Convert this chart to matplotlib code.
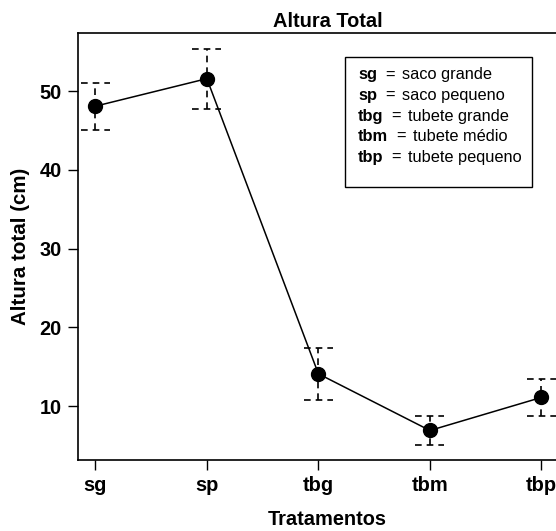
import matplotlib.pyplot as plt

plt.rcParams['font.family'] = ['Liberation Sans', 'DejaVu Sans']

# dados
tratamentos = ['sg', 'sp', 'tbg', 'tbm', 'tbp']
altura = [48.1, 51.6, 14.1, 6.9, 11.1]
erro = [3.0, 3.8, 3.3, 1.8, 2.3]
legenda_cod = ['sg', 'sp', 'tbg', 'tbm', 'tbp']
legenda_nome = ['saco grande', 'saco pequeno', 'tubete grande', 'tubete médio', 'tubete pequeno']

fig = plt.figure(figsize=(5.56, 5.31), dpi=100)
# eixo estende-se além da borda direita (como na figura original, cortada)
ax = fig.add_axes([77.5 / 556, 1 - 460 / 531, 500 / 556, 427 / 531])

x = list(range(1, len(tratamentos) + 1))
ax.plot(x, altura, color='black', lw=1.1, marker='o', ms=10, zorder=3)

# barras de erro tracejadas
for xi, yi, ei in zip(x, altura, erro):
    ax.vlines(xi, yi - ei, yi + ei, colors='black', linestyles=(0, (4, 3)), lw=1.2, zorder=2)
    ax.hlines([yi - ei, yi + ei], xi - 0.13, xi + 0.13, colors='black',
              linestyles=(0, (4, 3)), lw=1.2, zorder=2)

ax.set_xlim(0.84, 1 + (500 - 17.5) / 111.6)
ax.set_ylim(3.15, 57.4)
ax.set_xticks(x)
ax.set_xticklabels(tratamentos, fontsize=14.4, fontweight='bold')
ax.set_yticks([10, 20, 30, 40, 50])
ax.tick_params(axis='both', labelsize=14.4, length=7, width=1, direction='out', pad=4.5)
for lab in ax.get_yticklabels():
    lab.set_fontweight('bold')
ax.spines['right'].set_visible(False)
for s in ['left', 'bottom', 'top']:
    ax.spines[s].set_linewidth(1.2)

ax.set_title('Altura Total', fontsize=14.4, fontweight='bold', pad=4)
ax.set_xlabel('Tratamentos', fontsize=14.4, fontweight='bold', labelpad=11)
ax.set_ylabel('Altura total (cm)', fontsize=14.8, fontweight='bold', labelpad=7)

# caixa de legenda
box = plt.Rectangle((345 / 556, 1 - 187 / 531), 187 / 556, 130 / 531,
                    transform=fig.transFigure, fill=False, lw=1, color='black')
fig.add_artist(box)
fig.canvas.draw()
for i, (c, n) in enumerate(zip(legenda_cod, legenda_nome)):
    yy = 1 - (75 + i * 20.6) / 531
    t = fig.text(358 / 556, yy, c, fontsize=11.8, fontweight='bold', va='center')
    bb = t.get_window_extent(fig.canvas.get_renderer())
    eq = fig.text((bb.x1 + 8) / 556, yy, '=', fontsize=11.8, va='center')
    be = eq.get_window_extent(fig.canvas.get_renderer())
    fig.text((be.x1 + 7) / 556, yy, n, fontsize=11.8, va='center')

fig.savefig('out.png', dpi=100)
